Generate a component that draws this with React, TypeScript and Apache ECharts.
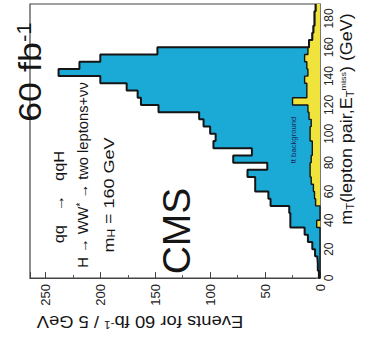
import React, { useEffect, useRef } from 'react';
import * as echarts from 'echarts';

// Transverse-mass histogram, 5 GeV bins: lower bin edges in GeV
const binLow = [
  0, 5, 10, 15, 20, 25, 30, 35, 40, 45, 50, 55, 60, 65, 70, 75, 80, 85, 90,
  95, 100, 105, 110, 115, 120, 125, 130, 135, 140, 145, 150, 155, 160, 165,
  170, 175, 180, 185,
];
const binWidth = 5;

// Signal + background, events per bin for 60 fb^-1
const totalEvents = [
  1, 2, 2.5, 4.5, 7, 11, 14, 27, 27, 28, 45, 47, 59, 59, 66, 48, 79, 62, 97,
  95, 100, 106, 110, 147, 163, 166, 176, 200, 238, 219, 200, 148, 10, 7, 6,
  5, 5, 4,
];

// tt background, events per bin
const ttBackground = [
  0, 0, 0, 0, 0, 0, 0, 3, 0, 0, 4, 5, 6, 8, 9, 9, 8, 7, 7, 9, 9, 8, 10, 11,
  25, 12, 12, 14, 11, 12, 14, 11, 10, 7, 6, 5, 5, 4,
];

const eventAxisMax = 264;
const eventTickStep = 50;
const massAxisMax = 190;
const massTickStep = 20;

const FONT = 'Liberation Sans, Arial, Helvetica, sans-serif';
const SIGNAL_BLUE = '#1ba9d6';
const TT_YELLOW = '#f0e43c';
const INK = '#151515';

// Step outline of a histogram in (events, mass) coordinates
const outline = (vals: number[]) => {
  const pts: number[][] = [[0, 0]];
  vals.forEach((v, i) => {
    pts.push([v, binLow[i]], [v, binLow[i] + binWidth]);
  });
  return pts;
};

// Filled histogram area, projected through the grid's axes
const areaRenderer = (vals: number[], fill: string) => (_params: any, api: any) => {
  const pts = outline(vals);
  const last = binLow[binLow.length - 1] + binWidth;
  pts.push([0, last]);
  return {
    type: 'polygon',
    shape: { points: pts.map((p) => api.coord(p)) },
    style: { fill },
  };
};

const vText = (
  x: number,
  y: number,
  text: string,
  fontSize: number,
  scaleX: number,
  rich: any = {},
  fill: string = INK
) => ({
  type: 'text',
  x,
  y,
  rotation: Math.PI / 2,
  scaleX,
  z: 10,
  style: {
    text,
    fontSize,
    fontFamily: FONT,
    fill,
    align: 'center',
    verticalAlign: 'middle',
    rich,
  },
});

export default function App() {
  const ref = useRef<HTMLDivElement>(null);

  useEffect(() => {
    if (!ref.current) return;
    const chart = echarts.init(ref.current, undefined, { renderer: 'svg' });

    const option: any = {
      animation: false,
      grid: {
        left: 30,
        right: 50,
        top: 4,
        bottom: 65,
        show: true,
        borderColor: '#444',
        borderWidth: 1.2,
      },
      xAxis: {
        type: 'value',
        inverse: true,
        min: 0,
        max: eventAxisMax,
        interval: eventTickStep,
        axisLine: { show: true, onZero: false, lineStyle: { color: '#444', width: 1.2 } },
        axisTick: { show: true, inside: true, length: 6, lineStyle: { color: '#444' } },
        minorTick: { show: true, splitNumber: 2, length: 3, lineStyle: { color: '#555' } },
        splitLine: { show: false },
        axisLabel: {
          rotate: 90,
          margin: 6,
          fontSize: 13,
          fontFamily: FONT,
          color: '#222',
          formatter: (v: number) => (v % eventTickStep === 0 ? String(v) : ''),
        },
      },
      yAxis: {
        type: 'value',
        position: 'right',
        min: 0,
        max: massAxisMax,
        interval: massTickStep,
        axisLine: { show: true, onZero: false, lineStyle: { color: '#777', width: 1 } },
        axisTick: { show: true, inside: true, length: 4, lineStyle: { color: '#777' } },
        splitLine: { show: false },
        axisLabel: {
          rotate: 90,
          margin: 3,
          fontSize: 12,
          fontFamily: FONT,
          color: '#222',
          formatter: (v: number) => (v % massTickStep === 0 ? String(v) : ''),
        },
      },
      series: [
        {
          type: 'custom',
          name: 'signal + background',
          renderItem: areaRenderer(totalEvents, SIGNAL_BLUE),
          data: [[0, 0]],
          clip: true,
          z: 2,
        },
        {
          type: 'custom',
          name: 'tt background',
          renderItem: areaRenderer(ttBackground, TT_YELLOW),
          data: [[0, 0]],
          clip: true,
          z: 3,
        },
        {
          type: 'line',
          data: outline(ttBackground),
          symbol: 'none',
          lineStyle: { color: INK, width: 1.4 },
          clip: true,
          z: 4,
        },
        {
          type: 'line',
          data: outline(totalEvents),
          symbol: 'none',
          lineStyle: { color: INK, width: 2 },
          clip: true,
          z: 5,
        },
      ],
      graphic: [
        // axis titles
        {
          type: 'text',
          x: 140,
          y: 322,
          rotation: Math.PI,
          scaleX: 1.15,
          style: {
            text: 'Events for 60 fb{p|-1} / 5 GeV',
            fontSize: 16,
            fontFamily: FONT,
            fill: INK,
            align: 'center',
            verticalAlign: 'middle',
            rich: { p: { fontSize: 10, verticalAlign: 'top', fontFamily: FONT } },
          },
        },
        vText(347, 119, 'm{s|T}(lepton pair,E{s|T}{p|miss}) (GeV)', 16, 1.12, {
          s: { fontSize: 10, verticalAlign: 'bottom', fontFamily: FONT },
          p: { fontSize: 8, verticalAlign: 'top', fontFamily: FONT },
        }),
        // annotations
        vText(30, 72, '60 fb{p|-1}', 32, 1.12, {
          p: { fontSize: 20, verticalAlign: 'top', fontFamily: FONT },
        }),
        vText(59, 197, 'qq{a|→}qqH', 15, 1.1, {
          a: { width: 40, align: 'center', fontSize: 15, fontFamily: FONT },
        }),
        vText(83, 175, 'H → WW{p|*} → two leptons+νν', 15, 0.98, {
          p: { fontSize: 10, verticalAlign: 'top', fontFamily: FONT },
        }),
        vText(109, 195, 'm{s|H} = 160 GeV', 15, 1.2, {
          s: { fontSize: 10, verticalAlign: 'bottom', fontFamily: FONT },
        }),
        vText(176, 231, 'CMS', 39, 1.0),
        vText(294, 140, 'tt background', 7, 1.1, {}, '#1c2a5c'),
      ],
    };

    chart.setOption(option);
    return () => chart.dispose();
  }, []);

  return (
    <div
      ref={ref}
      style={{ position: 'fixed', left: 0, top: 0, width: 370, height: 343, background: '#fff' }}
    />
  );
}
